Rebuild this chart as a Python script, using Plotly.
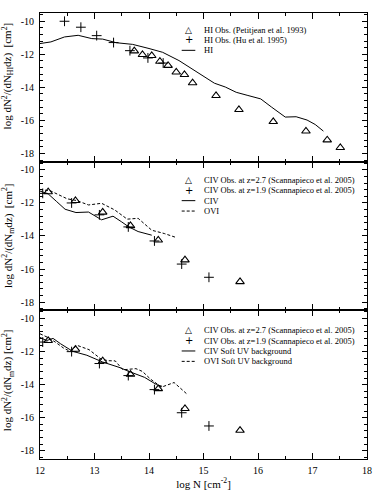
import plotly.graph_objects as go
from plotly.subplots import make_subplots

# HI panel: observations and model (log N, log dN^2/(dN dz))
hi_petitjean_logn = [13.73, 13.88, 14.05, 14.2, 14.35, 14.5, 14.65, 14.8, 15.23, 15.65, 16.28, 16.88, 17.27, 17.51]
hi_petitjean_f = [-11.8, -12.02, -12.08, -12.43, -12.68, -13.08, -13.23, -13.73, -14.5, -15.35, -16.08, -16.65, -17.19, -17.65]

hi_hu_logn = [12.45, 12.75, 13.04, 13.35, 13.65, 13.98, 14.26]
hi_hu_f = [-10.0, -10.36, -10.87, -11.29, -11.78, -12.22, -12.53]

hi_model_logn = [12.0, 12.2, 12.45, 12.7, 12.95, 13.15, 13.4, 13.7, 14.0, 14.25, 14.55, 14.75,
                 14.95, 15.2, 15.4, 15.6, 15.8, 16.05, 16.25, 16.5, 16.7, 16.9, 17.05, 17.2]
hi_model_f = [-11.35, -11.25, -10.95, -10.85, -11.05, -11.08, -11.3, -11.4, -11.65, -11.88, -12.38, -12.8,
              -13.25, -13.75, -13.98, -14.3, -14.48, -14.7, -15.2, -15.8, -15.78, -15.98, -16.25, -16.65]

# CIV observations (Scannapieco et al. 2005), shown in panels 2 and 3
civ27_logn = [12.15, 12.65, 13.15, 13.66, 14.17, 14.66, 15.67]
civ27_f = [-11.33, -11.86, -12.56, -13.38, -14.25, -15.45, -16.77]
civ19_logn = [12.05, 12.58, 13.09, 13.62, 14.1, 14.6, 15.1]
civ19_f = [-11.42, -12.0, -12.72, -13.45, -14.3, -15.7, -16.5]

# panel 2 models
civ_logn = [12.0, 12.15, 12.3, 12.46, 12.66, 12.89, 13.13, 13.34, 13.5, 13.63, 13.8, 14.05]
civ_f = [-11.28, -11.45, -11.9, -12.38, -12.58, -12.55, -13.02, -12.8, -13.15, -13.45, -13.73, -13.95]
ovi_logn = [12.0, 12.2, 12.5, 12.67, 12.89, 13.13, 13.37, 13.6, 13.8, 14.05, 14.28, 14.48]
ovi_f = [-11.18, -11.28, -11.75, -11.85, -12.12, -12.02, -12.42, -12.98, -12.93, -13.65, -13.85, -14.07]

# panel 3 models (soft UV background)
civ_soft_logn = [12.0, 12.12, 12.24, 12.38, 12.6, 12.86, 13.15, 13.45, 13.65, 13.92, 14.14, 14.24]
civ_soft_f = [-11.14, -11.33, -11.2, -11.53, -11.98, -12.22, -12.63, -12.95, -13.22, -13.56, -14.0, -14.1]
ovi_soft_logn = [12.0, 12.15, 12.28, 12.43, 12.55, 12.68, 12.9, 13.12, 13.25, 13.38, 13.52, 13.76,
                 13.88, 14.03, 14.23, 14.46, 14.7]
ovi_soft_f = [-10.92, -11.15, -11.42, -11.78, -11.98, -11.62, -11.88, -12.45, -12.55, -12.56, -13.1, -13.03,
              -13.2, -13.67, -14.15, -13.87, -14.58]

y_tickvals = [-18, -16, -14, -12, -10]
y_ticktext = ["-18", "-16", "-14", "-12", "-10"]

labels_1 = ["HI Obs. (Petitjean et al. 1993)", "HI Obs. (Hu et al. 1995)", "HI"]
labels_2 = ["CIV Obs. at z=2.7 (Scannapieco et al. 2005)", "CIV Obs. at z=1.9 (Scannapieco et al. 2005)",
            "CIV", "OVI"]
labels_3 = ["CIV Obs. at z=2.7 (Scannapieco et al. 2005)", "CIV Obs. at z=1.9 (Scannapieco et al. 2005)",
            "CIV Soft UV background", "OVI Soft UV background"]

ytitle_1 = "log dN<sup>2</sup>/(dN<sub>HI</sub>dz)  [cm<sup>2</sup>]"
ytitle_2 = "log dN<sup>2</sup>/(dN<sub>m</sub>dz)  [cm<sup>2</sup>]"
ytitle_3 = "log dN<sup>2</sup>/(dN<sub>m</sub>dz) [cm<sup>2</sup>]"
xtitle = "log N [cm<sup>-2</sup>]"

FONT = "Liberation Serif"
tri = dict(symbol="triangle-up-open", size=7.5, color="black", line=dict(width=1.1, color="black"))
plus = dict(symbol="cross-thin-open", size=7, color="black", line=dict(width=1, color="black"))

fig = make_subplots(rows=3, cols=1, shared_xaxes=True, vertical_spacing=0)

# panel 1
fig.add_trace(go.Scatter(x=hi_petitjean_logn, y=hi_petitjean_f, mode="markers", marker=tri), row=1, col=1)
fig.add_trace(go.Scatter(x=hi_hu_logn, y=hi_hu_f, mode="markers", marker=plus), row=1, col=1)
fig.add_trace(go.Scatter(x=hi_model_logn, y=hi_model_f, mode="lines",
                         line=dict(color="black", width=1)), row=1, col=1)

# panel 2
fig.add_trace(go.Scatter(x=civ27_logn, y=civ27_f, mode="markers", marker=tri), row=2, col=1)
fig.add_trace(go.Scatter(x=civ19_logn, y=civ19_f, mode="markers", marker=plus), row=2, col=1)
fig.add_trace(go.Scatter(x=civ_logn, y=civ_f, mode="lines",
                         line=dict(color="black", width=1)), row=2, col=1)
fig.add_trace(go.Scatter(x=ovi_logn, y=ovi_f, mode="lines",
                         line=dict(color="black", width=1, dash="3px,2px")), row=2, col=1)

# panel 3
fig.add_trace(go.Scatter(x=civ27_logn, y=civ27_f, mode="markers", marker=tri), row=3, col=1)
fig.add_trace(go.Scatter(x=civ19_logn, y=civ19_f, mode="markers", marker=plus), row=3, col=1)
fig.add_trace(go.Scatter(x=civ_soft_logn, y=civ_soft_f, mode="lines",
                         line=dict(color="black", width=1)), row=3, col=1)
fig.add_trace(go.Scatter(x=ovi_soft_logn, y=ovi_soft_f, mode="lines",
                         line=dict(color="black", width=1, dash="3px,2px")), row=3, col=1)


# hand-drawn keys (plotly legend rows are too tall for this layout)
def add_key(row, labels, keys, y0):
    for i, (lab, key) in enumerate(zip(labels, keys)):
        y = y0 - i * 0.63
        fig.add_annotation(x=14.97, y=y, text=lab, xanchor="left", yanchor="middle", showarrow=False,
                           font=dict(family=FONT, size=8.5, color="black"), row=row, col=1)
        if key in ("solid", "dash"):
            fig.add_shape(type="line", x0=14.6, x1=14.85, y0=y, y1=y,
                          line=dict(color="black", width=1, dash="solid" if key == "solid" else "3px,2px"),
                          row=row, col=1)
        else:
            fig.add_annotation(x=14.73, y=y, text=key, showarrow=False,
                               font=dict(family="DejaVu Sans", size=10 if key == "+" else 9, color="black"),
                               row=row, col=1)


add_key(1, labels_1, ["△", "+", "solid"], -10.5)
add_key(2, labels_2, ["△", "+", "solid", "dash"], -10.6)
add_key(3, labels_3, ["△", "+", "solid", "dash"], -10.7)

# y titles as annotations so they sit where the reference puts them
for yref, t, yy in [("y domain", ytitle_1, 0.58), ("y2 domain", ytitle_2, 0.5), ("y3 domain", ytitle_3, 0.53)]:
    fig.add_annotation(xref="paper", yref=yref, x=-0.098, y=yy, text=t, textangle=-90,
                       showarrow=False, xanchor="center", yanchor="middle",
                       font=dict(family=FONT, size=11, color="black"))

axis_common = dict(showline=True, linecolor="black", linewidth=1, mirror="allticks",
                   ticks="inside", tickcolor="black", showgrid=False, zeroline=False,
                   automargin=False, tickfont=dict(family=FONT, size=10, color="black"))

fig.update_xaxes(range=[12, 18], dtick=1, ticklen=6, ticklabeloverflow="allow",
                 minor=dict(dtick=0.5, ticklen=3, ticks="inside", tickcolor="black", showgrid=False),
                 **axis_common)
fig.update_xaxes(title=dict(text=xtitle, font=dict(family=FONT, size=11, color="black"), standoff=4),
                 ticklabelstandoff=2, row=3, col=1)

fig.update_yaxes(range=[-18.5, -9.5], tickvals=y_tickvals, ticktext=y_ticktext, ticklen=5,
                 ticklabelstandoff=3,
                 minor=dict(tick0=-18, dtick=0.4, ticklen=3, ticks="inside", tickcolor="black", showgrid=False),
                 **axis_common)

fig.update_layout(
    width=382, height=494,
    margin=dict(l=40, r=15, t=13, b=35),
    plot_bgcolor="white", paper_bgcolor="white",
    showlegend=False,
    font=dict(family=FONT, color="black"),
)

# the page's default body margin would shift the figure by 8px
fig.write_html("out.html", config={"displayModeBar": False},
               post_script="document.body.style.margin='0px';")
